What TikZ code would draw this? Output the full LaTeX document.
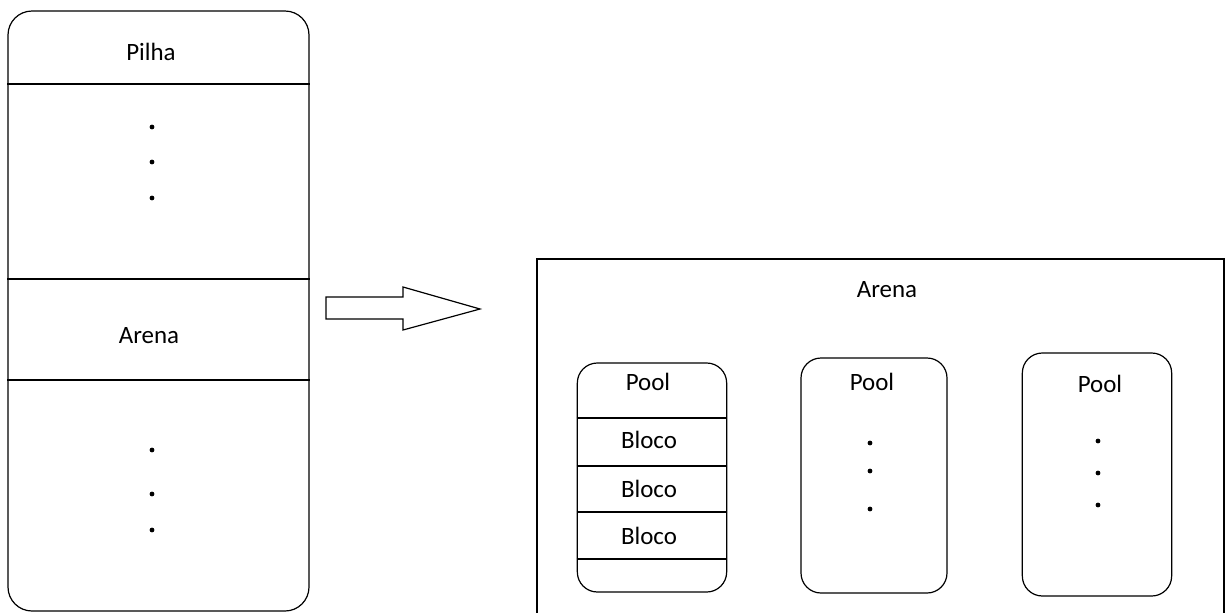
\documentclass[tikz,border=0pt]{standalone}
\usepackage{fontspec}
\setmainfont{Carlito}
\usetikzlibrary{positioning}

\begin{document}
\begin{tikzpicture}[x=0.75pt, y=-0.75pt, line width=0.9pt,
    every node/.style={font=\fontsize{18.7}{22}\selectfont},
    bigbox/.style={draw, rounded corners=18pt, inner sep=0pt},
    poolbox/.style={draw, rounded corners=15pt, inner sep=0pt, minimum width=112pt},
    label/.style={inner sep=0pt, anchor=center},
    dot/.style={circle, fill, inner sep=0pt, minimum size=3.6pt}]
  \useasboundingbox (0,0) rectangle (1232,612);

  % memória: pilha e arena
  \node (mem) [bigbox, minimum width=225.75pt, minimum height=450pt] at (158.5,311) {};
  \draw (mem.west |- 0,84) -- (mem.east |- 0,84);
  \draw (mem.west |- 0,279) -- (mem.east |- 0,279);
  \draw (mem.west |- 0,380) -- (mem.east |- 0,380);
  \node (pilha) [label] at (151,52) {Pilha};
  \node (arenaL) [label] at (149,336) {Arena};
  \foreach \y in {127,162,198,450,494,530}
    \node [dot] at (152,\y) {};

  % seta de bloco
  \coordinate (a1) at (326,297);
  \coordinate (a2) at (403,297);
  \coordinate (a3) at (403,287);
  \coordinate (tip) at (480,309);
  \coordinate (a5) at (403,330);
  \coordinate (a6) at (403,319);
  \coordinate (a7) at (326,319);
  \draw (a1) -- (a2) -- (a3) -- (tip) -- (a5) -- (a6) -- (a7) -- cycle;

  % arena com os pools (aberta embaixo)
  \draw (537,613) |- (1224,259) -- (1224,613);
  \node (arenaR) [label] at (887,290) {Arena};

  \node (pool1) [poolbox, minimum height=171.75pt] at (652,477.5) {};
  \node (pool2) [poolbox, minimum width=109.5pt, minimum height=176.25pt] at (874,475.5) {};
  \node (pool3) [poolbox, minimum height=182.25pt] at (1097,474.5) {};

  \foreach \y in {418,466,512,559}
    \draw (pool1.west |- 0,\y) -- (pool1.east |- 0,\y);
  \node [label] at (648,382) {Pool};
  \node [label] at (649,440) {Bloco};
  \node [label] at (649,489) {Bloco};
  \node [label] at (649,536) {Bloco};

  \node [label] at (872,382) {Pool};
  \foreach \y in {443,471,509}
    \node [dot] at (870,\y) {};

  \node [label] at (1100,384) {Pool};
  \foreach \y in {441,473,505}
    \node [dot] at (1098,\y) {};
\end{tikzpicture}
\end{document}
